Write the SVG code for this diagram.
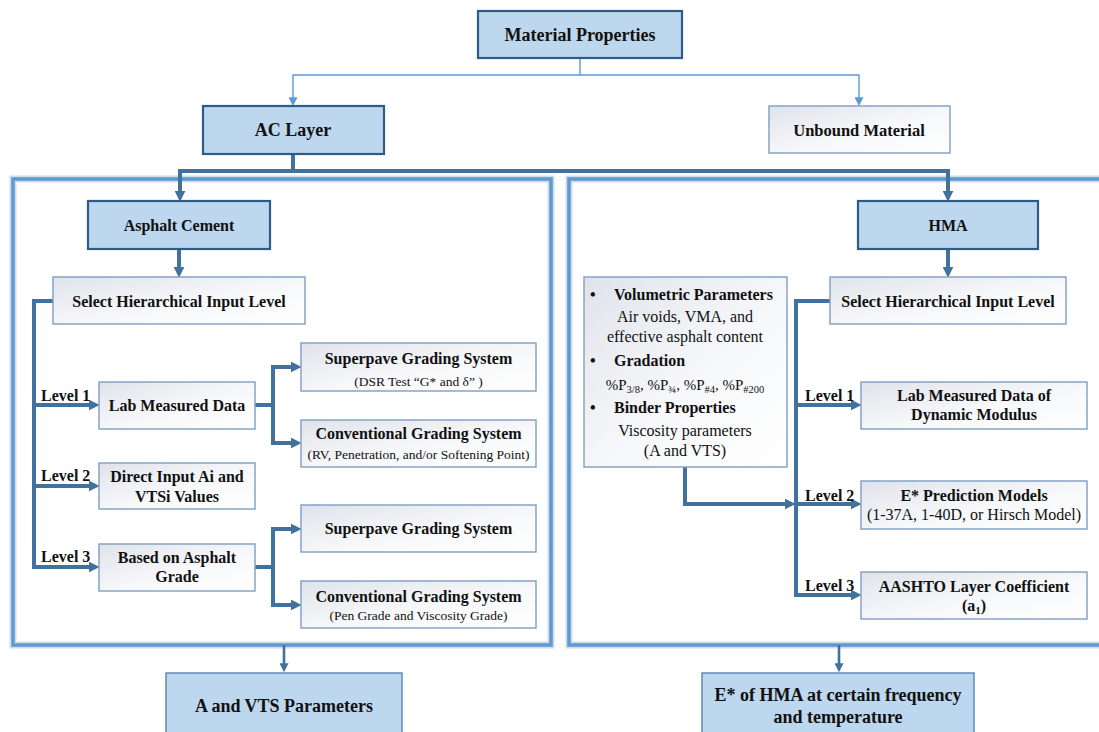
<svg xmlns="http://www.w3.org/2000/svg" width="1099" height="732" viewBox="0 0 1099 732">
<style>
text{font-family:"Liberation Serif","Times New Roman",serif;fill:#111;}
.b{font-weight:bold;font-size:16px;}
.bl{font-weight:bold;font-size:18px;}
.r{font-size:16px;}
.s{font-size:13.5px;}
.m{text-anchor:middle;}
.blue{fill:#bdd7ee;stroke:#2e5c8a;stroke-width:2.2;}
.blue2{fill:#bdd7ee;stroke:#4a7bb0;stroke-width:1.3;}
.lite{fill:url(#g);stroke:#7f9ec2;stroke-width:1.4;}
.panel{fill:none;stroke:#5b9bd5;stroke-width:3.5;}
.glow{fill:none;stroke:#d3dbe6;stroke-width:7;}
.thin{fill:none;stroke:#5b9bd5;stroke-width:1.4;}
.thick{fill:none;stroke:#41719c;stroke-width:4;}
.mid{fill:none;stroke:#41719c;stroke-width:2.6;}
</style>
<defs>
<linearGradient id="g" x1="0" y1="0" x2="1" y2="1">
<stop offset="0" stop-color="#dfe3ea"/>
<stop offset="0.55" stop-color="#f7f8fa"/>
<stop offset="1" stop-color="#ffffff"/>
</linearGradient>
<marker id="at" viewBox="0 0 10 10" refX="2" refY="5" markerWidth="9" markerHeight="9" markerUnits="userSpaceOnUse" orient="auto"><path d="M0,0 L10,5 L0,10 z" fill="#5b9bd5"/></marker>
<marker id="ak" viewBox="0 0 10 10" refX="3" refY="5" markerWidth="11" markerHeight="11" markerUnits="userSpaceOnUse" orient="auto"><path d="M0,0 L10,5 L0,10 z" fill="#41719c"/></marker>
<marker id="am" viewBox="0 0 10 10" refX="3" refY="5" markerWidth="9" markerHeight="9" markerUnits="userSpaceOnUse" orient="auto"><path d="M0,0 L10,5 L0,10 z" fill="#41719c"/></marker>
</defs>
<rect width="1099" height="732" fill="#ffffff"/>

<g id="panels">
<rect class="glow" x="13" y="179" width="538" height="466"/>
<rect class="panel" x="13" y="179" width="538" height="466"/>
<rect class="glow" x="569" y="179" width="545" height="466"/>
<rect class="panel" x="569" y="179" width="545" height="466"/>
</g>

<g id="connectors">
<path class="thin" d="M580,58 V75 H293 V99" marker-end="url(#at)"/>
<path class="thin" d="M580,75 H859 V99" marker-end="url(#at)"/>
<path class="thick" d="M293,154 V171 H180 V194" marker-end="url(#ak)"/>
<path class="thick" d="M293,171 H948 V194" marker-end="url(#ak)"/>
<path class="thick" d="M179,249 V270" marker-end="url(#ak)"/>
<path class="thick" d="M53,301 H34 V567 H92" marker-end="url(#ak)"/>
<path class="thick" d="M34,405 H92" marker-end="url(#ak)"/>
<path class="thick" d="M34,486 H92" marker-end="url(#ak)"/>
<path class="thick" d="M255,405 H273 V367 H294" marker-end="url(#ak)"/>
<path class="thick" d="M273,405 V443 H294" marker-end="url(#ak)"/>
<path class="thick" d="M255,567 H273 V529 H294" marker-end="url(#ak)"/>
<path class="thick" d="M273,567 V605 H294" marker-end="url(#ak)"/>
<path class="thick" d="M948,249 V270" marker-end="url(#ak)"/>
<path class="thick" d="M830,301 H796 V595 H854" marker-end="url(#ak)"/>
<path class="thick" d="M796,405 H854" marker-end="url(#ak)"/>
<path class="thick" d="M796,504 H854" marker-end="url(#ak)"/>
<path class="thick" d="M685,467 V504 H788" marker-end="url(#ak)"/>
<path class="mid" d="M284,645 V666" marker-end="url(#am)"/>
<path class="mid" d="M839,645 V666" marker-end="url(#am)"/>
</g>

<g id="level-labels">
<text class="b" x="41" y="400.5">Level 1</text>
<text class="b" x="41" y="481">Level 2</text>
<text class="b" x="41" y="562">Level 3</text>
<text class="b" x="805" y="400.5">Level 1</text>
<text class="b" x="805" y="500.5">Level 2</text>
<text class="b" x="805" y="590.5">Level 3</text>
</g>

<g id="material-properties">
<rect class="blue" x="478" y="11" width="204" height="47"/>
<text class="bl m" x="580" y="41">Material Properties</text>
</g>
<g id="ac-layer">
<rect class="blue" x="203" y="106" width="181" height="48"/>
<text class="bl m" x="293" y="136">AC Layer</text>
</g>
<g id="unbound-material">
<rect class="lite" x="769" y="106" width="181" height="47"/>
<text class="bl m" x="859" y="136" style="font-size:16.5px">Unbound Material</text>
</g>

<g id="asphalt-cement">
<rect class="blue" x="88" y="201" width="182" height="48"/>
<text class="b m" x="179" y="230.5">Asphalt Cement</text>
</g>
<g id="select-left">
<rect class="lite" x="53" y="277" width="252" height="47"/>
<text class="b m" x="179" y="306.5">Select Hierarchical Input Level</text>
</g>
<g id="lab-measured-left">
<rect class="lite" x="99" y="382" width="156" height="47"/>
<text class="b m" x="177" y="410.5">Lab Measured Data</text>
</g>
<g id="direct-input">
<rect class="lite" x="99" y="463" width="156" height="46"/>
<text class="b m" x="177" y="482">Direct Input Ai and</text>
<text class="b m" x="177" y="501.5">VTSi Values</text>
</g>
<g id="asphalt-grade">
<rect class="lite" x="99" y="544" width="156" height="47"/>
<text class="b m" x="177" y="563">Based on Asphalt</text>
<text class="b m" x="177" y="581.5">Grade</text>
</g>
<g id="superpave-1">
<rect class="lite" x="301" y="343" width="235" height="48"/>
<text class="b m" x="418.5" y="363.5">Superpave Grading System</text>
<text class="s m" x="418.5" y="385.5">(DSR Test “G* and δ” )</text>
</g>
<g id="conventional-1">
<rect class="lite" x="301" y="420" width="235" height="47"/>
<text class="b m" x="418.5" y="438.5">Conventional Grading System</text>
<text class="s m" x="418.5" y="459">(RV, Penetration, and/or Softening Point)</text>
</g>
<g id="superpave-2">
<rect class="lite" x="301" y="505" width="235" height="47"/>
<text class="b m" x="418.5" y="534">Superpave Grading System</text>
</g>
<g id="conventional-2">
<rect class="lite" x="301" y="581" width="235" height="47"/>
<text class="b m" x="418.5" y="601.5">Conventional Grading System</text>
<text class="s m" x="418.5" y="620">(Pen Grade and Viscosity Grade)</text>
</g>

<g id="hma">
<rect class="blue" x="858" y="201" width="180" height="48"/>
<text class="b m" x="948" y="230.5">HMA</text>
</g>
<g id="select-right">
<rect class="lite" x="830" y="277" width="236" height="47"/>
<text class="b m" x="948" y="306.5">Select Hierarchical Input Level</text>
</g>
<g id="hma-inputs">
<rect class="lite" x="584" y="277" width="203" height="190"/>
<text class="b" x="590" y="300">•</text>
<text class="b" x="614" y="300">Volumetric Parameters</text>
<text class="r m" x="685" y="322">Air voids, VMA, and</text>
<text class="r m" x="685" y="341.5">effective asphalt content</text>
<text class="b" x="590" y="365.5">•</text>
<text class="b" x="614" y="365.5">Gradation</text>
<text class="m" x="685" y="390" style="font-size:15px">%P<tspan dy="3" style="font-size:10.5px">3/8</tspan><tspan dy="-3">, %P</tspan><tspan dy="3" style="font-size:10.5px">¾</tspan><tspan dy="-3">, %P</tspan><tspan dy="3" style="font-size:10.5px">#4</tspan><tspan dy="-3">, %P</tspan><tspan dy="3" style="font-size:10.5px">#200</tspan></text>
<text class="b" x="590" y="413">•</text>
<text class="b" x="614" y="413">Binder Properties</text>
<text class="r m" x="685" y="436">Viscosity parameters</text>
<text class="r m" x="685" y="455.5">(A and VTS)</text>
</g>
<g id="lab-measured-right">
<rect class="lite" x="861" y="382" width="226" height="47"/>
<text class="b m" x="974" y="400.5">Lab Measured Data of</text>
<text class="b m" x="974" y="420">Dynamic Modulus</text>
</g>
<g id="e-prediction">
<rect class="lite" x="861" y="481" width="226" height="48"/>
<text class="b m" x="974" y="500.5">E* Prediction Models</text>
<text class="r m" x="974" y="520">(1-37A, 1-40D, or Hirsch Model)</text>
</g>
<g id="aashto">
<rect class="lite" x="861" y="572" width="226" height="47"/>
<text class="b m" x="974" y="591.5">AASHTO Layer Coefficient</text>
<text class="b m" x="974" y="611">(a<tspan dy="3" style="font-size:11px">1</tspan><tspan dy="-3">)</tspan></text>
</g>

<g id="a-vts-parameters">
<rect class="blue2" x="166" y="673" width="236" height="70"/>
<text class="bl m" x="284" y="712">A and VTS Parameters</text>
</g>
<g id="e-star-hma">
<rect class="blue2" x="702" y="673" width="272" height="70"/>
<text class="bl m" x="838" y="700.5">E* of HMA at certain frequency</text>
<text class="bl m" x="838" y="722.5">and temperature</text>
</g>
</svg>
